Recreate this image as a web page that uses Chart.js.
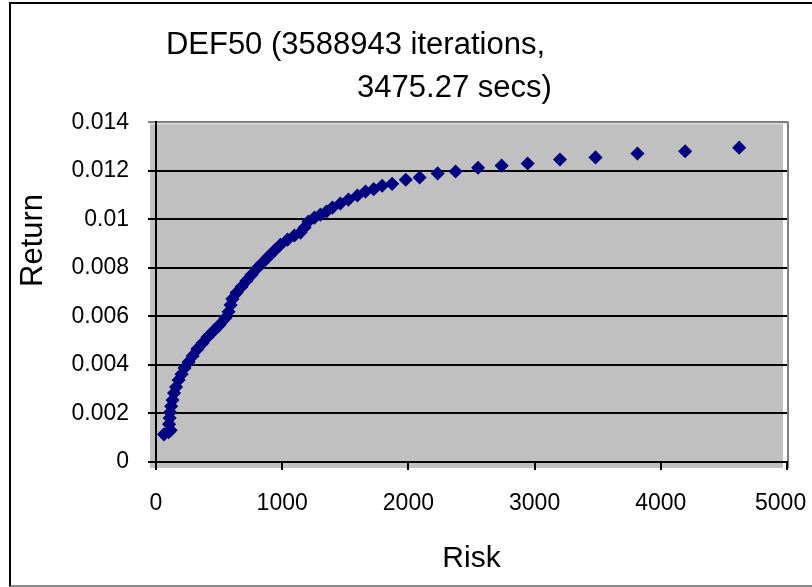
<!DOCTYPE html>
<html>
<head>
<meta charset="utf-8">
<script src="https://cdn.jsdelivr.net/npm/chart.js@4.4.0/dist/chart.umd.min.js"></script>
<style>
  html, body { margin: 0; padding: 0; background: #fff; }
  #wrap { position: relative; width: 812px; height: 587px; overflow: hidden; }
  #frame { position: absolute; left: 9px; top: 2px; width: 820px; height: 581px;
           border-left: 2px solid #000; border-top: 2px solid #000; border-bottom: 2px solid #888; }
  canvas { position: absolute; left: 0; top: 0; }
</style>
</head>
<body>
<div id="wrap">
  <div id="frame"></div>
  <canvas id="chart" width="812" height="587"></canvas>
</div>
<script>
// Points (risque, rendement)
const riskValues = [63, 100, 116, 104, 108, 112, 120, 131, 143, 159, 179, 203, 226, 258, 290, 329,
    369, 409, 456, 504, 551, 575, 591, 606, 638, 678, 717, 757, 797, 844, 891, 939, 986, 1042,
    1097, 1145, 1177, 1208, 1256, 1303, 1351, 1398, 1461, 1525, 1596, 1660, 1725, 1792, 1871,
    1979, 2089, 2232, 2374, 2552, 2739, 2945, 3201, 3483, 3815, 4193, 4621];
const returnValues = [0.00114, 0.00123, 0.00131, 0.00156, 0.00181, 0.00205, 0.00230, 0.00255,
    0.00284, 0.00309, 0.00338, 0.00362, 0.00387, 0.00412, 0.00437, 0.00466, 0.00490, 0.00515,
    0.00540, 0.00565, 0.00594, 0.00619, 0.00647, 0.00672, 0.00697, 0.00722, 0.00747, 0.00771,
    0.00796, 0.00821, 0.00846, 0.00871, 0.00895, 0.00916, 0.00933, 0.00945, 0.00966, 0.00991,
    0.01007, 0.01019, 0.01032, 0.01048, 0.01065, 0.01081, 0.01098, 0.01114, 0.01124, 0.01138,
    0.01146, 0.01163, 0.01172, 0.01189, 0.01197, 0.01212, 0.01221, 0.01230, 0.01246, 0.01255,
    0.01271, 0.01280, 0.01295];
const xTickLabels = ['0', '1000', '2000', '3000', '4000', '5000'];
const yTickLabels = ['0', '0.002', '0.004', '0.006', '0.008', '0.01', '0.012', '0.014'];

const FONT = "'Liberation Sans', Arial, sans-serif";

// Fond gris de la zone de tracé, style Excel
const plotBackground = {
    id: 'plotBackground',
    beforeDraw(chart) {
        const { ctx, chartArea: a } = chart;
        ctx.save();
        ctx.fillStyle = '#c0c0c0';
        ctx.fillRect(a.left - 6, a.top + 2, a.right - a.left + 2, a.bottom - a.top + 4);
        ctx.strokeStyle = '#808080';
        ctx.lineWidth = 2;
        ctx.beginPath();
        ctx.moveTo(a.left - 6, a.top);
        ctx.lineTo(a.right + 1, a.top);
        ctx.lineTo(a.right + 1, a.bottom + 6);
        ctx.stroke();
        ctx.restore();
    }
};

const data = {
    datasets: [{
        label: 'DEF50',
        data: riskValues.map((r, i) => ({ x: r, y: returnValues[i] })),
        pointStyle: 'rectRot',
        pointRadius: 6,
        pointBorderWidth: 1.5,
        backgroundColor: '#000080',
        borderColor: '#000080',
        showLine: false
    }]
};

const config = {
    type: 'scatter',
    data: data,
    options: {
        responsive: false,
        animation: false,
        layout: { padding: { left: 10, right: 25, top: 4, bottom: 4 } },
        plugins: {
            legend: { display: false },
            tooltip: { enabled: false },
            title: {
                display: true,
                text: ['DEF50 (3588943 iterations,' + ' '.repeat(10), ' '.repeat(13) + '3475.27 secs)'],
                color: '#000',
                font: { family: FONT, size: 31, weight: 'normal', lineHeight: 1.39 },
                padding: { top: 20, bottom: 12 }
            }
        },
        scales: {
            x: {
                type: 'linear',
                min: 0,
                max: 5000,
                afterFit: (s) => { s.height = 121; s.paddingRight = 0; s.paddingLeft = 0; },
                ticks: {
                    stepSize: 1000,
                    color: '#000',
                    font: { family: FONT, size: 23 },
                    padding: 20,
                    maxRotation: 0,
                    // le dernier libellé est décalé vers la gauche comme dans Excel
                    callback: (v, i) => i === xTickLabels.length - 1 ? xTickLabels[i] + '  ' : xTickLabels[i]
                },
                grid: { drawOnChartArea: false, drawTicks: true, tickLength: 8, color: '#000', lineWidth: 2 },
                border: { display: true, color: '#000', width: 2 },
                title: {
                    display: true,
                    text: 'Risk',
                    color: '#000',
                    font: { family: FONT, size: 30 },
                    padding: { top: 0, bottom: 6 }
                }
            },
            y: {
                min: 0,
                max: 0.014,
                afterFit: (s) => { s.width = 146; },
                ticks: {
                    stepSize: 0.002,
                    color: '#000',
                    font: { family: FONT, size: 23 },
                    padding: 19,
                    callback: (v, i) => yTickLabels[i]
                },
                grid: {
                    drawTicks: true,
                    tickLength: 8,
                    lineWidth: 2,
                    color: (c) => c.index === yTickLabels.length - 1 ? '#808080' : '#000'
                },
                border: { display: true, color: '#000', width: 2 },
                title: {
                    display: true,
                    text: ' '.repeat(12) + 'Return',
                    color: '#000',
                    font: { family: FONT, size: 31 },
                    padding: { top: 5, bottom: 0 }
                }
            }
        }
    },
    plugins: [plotBackground]
};

new Chart(document.getElementById('chart'), config);
</script>
</body>
</html>
